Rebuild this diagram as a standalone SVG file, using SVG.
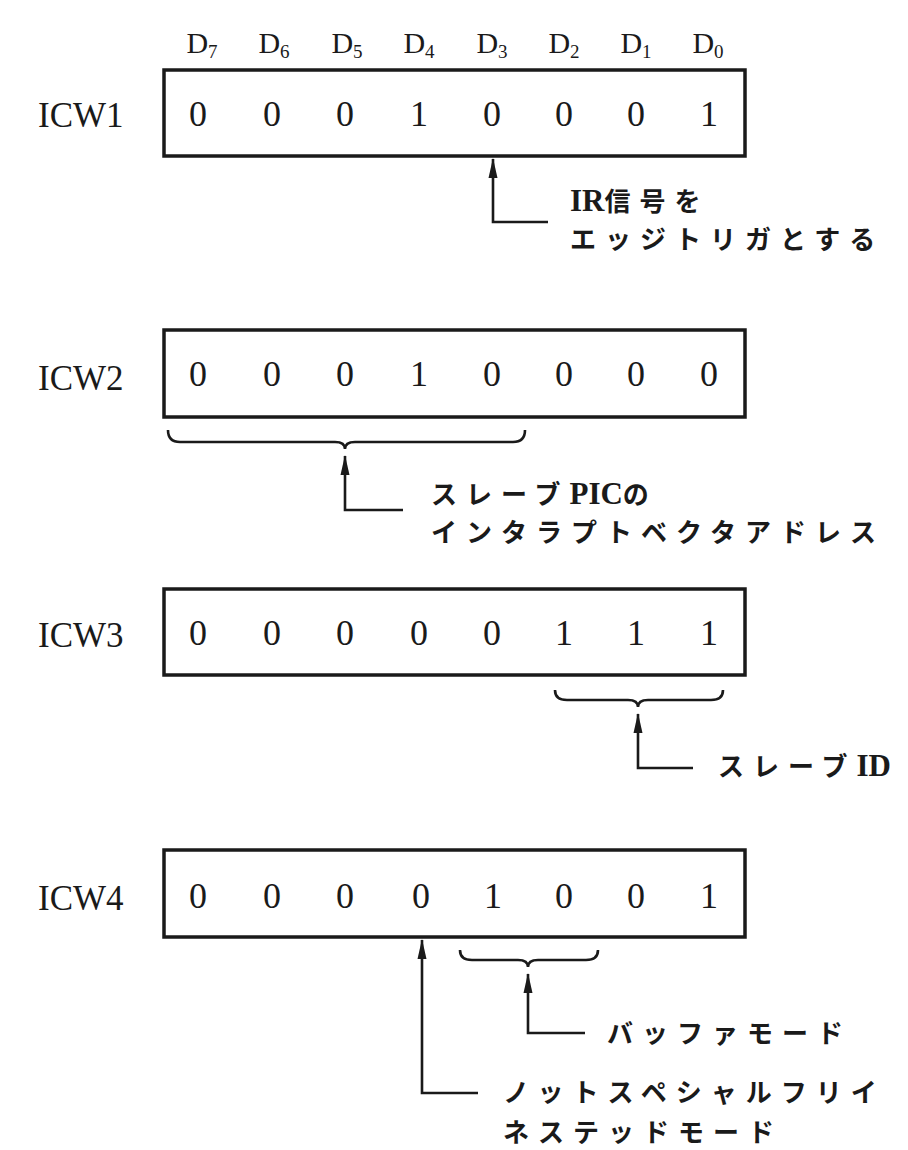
<svg xmlns="http://www.w3.org/2000/svg" width="908" height="1150" viewBox="0 0 908 1150">
<style>
.bg{fill:#ffffff}
.box{fill:none;stroke:#1a1a1a;stroke-width:3.5}
.lbl{font-family:"Liberation Serif","Times New Roman",serif;font-size:35px;fill:#1a1a1a}
.dig{font-family:"Liberation Serif","Times New Roman",serif;font-size:36px;fill:#1a1a1a;text-anchor:middle}
.dh{font-family:"Liberation Serif","Times New Roman",serif;font-size:30px;fill:#1a1a1a;text-anchor:middle}
.sub{font-size:19px}
.jp{font-family:"Noto Sans CJK JP","Noto Sans",sans-serif;font-size:26px;font-weight:bold;letter-spacing:9px;fill:#1a1a1a}
.lat{font-family:"Liberation Serif","Times New Roman",serif;font-size:31px;font-weight:bold;letter-spacing:0}
.ln{fill:none;stroke:#1a1a1a;stroke-width:2.6}
</style>
<defs>
<marker id="ah" viewBox="0 0 20 10" refX="19" refY="5" markerWidth="20" markerHeight="10" markerUnits="userSpaceOnUse" orient="auto">
<path d="M0,0.5 L20,5 L0,9.5 Z" fill="#1a1a1a"/>
</marker>
</defs>
<rect class="bg" x="0" y="0" width="908" height="1150"/>

<g id="bit-header">
<text class="dh" x="202" y="53">D<tspan class="sub" dy="5">7</tspan></text>
<text class="dh" x="274" y="53">D<tspan class="sub" dy="5">6</tspan></text>
<text class="dh" x="347" y="53">D<tspan class="sub" dy="5">5</tspan></text>
<text class="dh" x="419" y="53">D<tspan class="sub" dy="5">4</tspan></text>
<text class="dh" x="492" y="53">D<tspan class="sub" dy="5">3</tspan></text>
<text class="dh" x="564" y="53">D<tspan class="sub" dy="5">2</tspan></text>
<text class="dh" x="636" y="53">D<tspan class="sub" dy="5">1</tspan></text>
<text class="dh" x="708" y="53">D<tspan class="sub" dy="5">0</tspan></text>
</g>

<g id="icw1">
<text class="lbl" x="38" y="127">ICW1</text>
<rect class="box" x="164" y="70" width="581" height="86"/>
<text class="dig" x="198" y="126">0</text>
<text class="dig" x="272" y="126">0</text>
<text class="dig" x="345" y="126">0</text>
<text class="dig" x="419" y="126">1</text>
<text class="dig" x="492" y="126">0</text>
<text class="dig" x="564" y="126">0</text>
<text class="dig" x="636" y="126">0</text>
<text class="dig" x="709" y="126">1</text>
</g>

<g id="icw2">
<text class="lbl" x="38" y="390">ICW2</text>
<rect class="box" x="164" y="330" width="581" height="87"/>
<text class="dig" x="198" y="386">0</text>
<text class="dig" x="272" y="386">0</text>
<text class="dig" x="345" y="386">0</text>
<text class="dig" x="419" y="386">1</text>
<text class="dig" x="492" y="386">0</text>
<text class="dig" x="564" y="386">0</text>
<text class="dig" x="636" y="386">0</text>
<text class="dig" x="709" y="386">0</text>
</g>

<g id="icw3">
<text class="lbl" x="38" y="647">ICW3</text>
<rect class="box" x="164" y="589" width="581" height="86"/>
<text class="dig" x="198" y="645">0</text>
<text class="dig" x="272" y="645">0</text>
<text class="dig" x="345" y="645">0</text>
<text class="dig" x="419" y="645">0</text>
<text class="dig" x="492" y="645">0</text>
<text class="dig" x="564" y="645">1</text>
<text class="dig" x="636" y="645">1</text>
<text class="dig" x="709" y="645">1</text>
</g>

<g id="icw4">
<text class="lbl" x="38" y="910">ICW4</text>
<rect class="box" x="164" y="850" width="581" height="87"/>
<text class="dig" x="198" y="908">0</text>
<text class="dig" x="272" y="908">0</text>
<text class="dig" x="345" y="908">0</text>
<text class="dig" x="421" y="908">0</text>
<text class="dig" x="493" y="908">1</text>
<text class="dig" x="564" y="908">0</text>
<text class="dig" x="636" y="908">0</text>
<text class="dig" x="709" y="908">1</text>
</g>

<g id="connectors">
<path class="ln" d="M548,222 H493 V159" marker-end="url(#ah)"/>
<path class="ln" d="M168,430 Q168,442 180,442 H335 Q345,442 345,449 Q345,442 355,442 H513 Q525,442 525,430"/>
<path class="ln" d="M403,510 H345 V456" marker-end="url(#ah)"/>
<path class="ln" d="M555,690 Q555,700 567,700 H628 Q638,700 638,707 Q638,700 648,700 H711 Q723,700 723,690"/>
<path class="ln" d="M693,768 H638 V714" marker-end="url(#ah)"/>
<path class="ln" d="M460,950 Q460,960 472,960 H518 Q528,960 528,967 Q528,960 538,960 H586 Q598,960 598,950"/>
<path class="ln" d="M585,1033 H528 V974" marker-end="url(#ah)"/>
<path class="ln" d="M478,1093 H422 V940" marker-end="url(#ah)"/>
</g>

<g id="note-icw1">
<text class="jp" x="570" y="211"><tspan class="lat">IR</tspan>信号を</text>
<text class="jp" x="570" y="249">エッジトリガとする</text>
</g>
<g id="note-icw2">
<text class="jp" x="431" y="504">スレーブ<tspan class="lat">PIC</tspan>の</text>
<text class="jp" x="431" y="542">インタラプトベクタアドレス</text>
</g>
<g id="note-icw3">
<text class="jp" x="718" y="776">スレーブ<tspan class="lat">ID</tspan></text>
</g>
<g id="note-icw4-buffer">
<text class="jp" x="607" y="1043">バッファモード</text>
</g>
<g id="note-icw4-sfnm">
<text class="jp" x="503" y="1102">ノットスペシャルフリイ</text>
<text class="jp" x="503" y="1142">ネステッドモード</text>
</g>
</svg>
